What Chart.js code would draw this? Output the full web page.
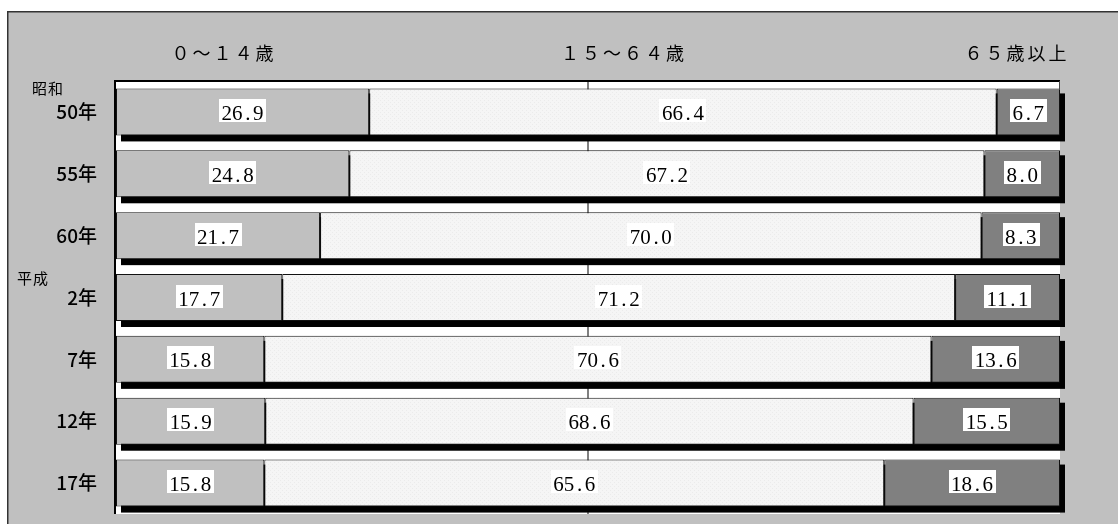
<!DOCTYPE html>
<html><head><meta charset="utf-8">
<script src="https://cdn.jsdelivr.net/npm/chart.js@4/dist/chart.umd.min.js"></script>
<style>html,body{margin:0;padding:0;background:#fff}#wrap{width:1118px;height:524px;position:relative}</style>
</head><body><div id="wrap"><canvas id="c" width="1118" height="524"></canvas></div>
<script>
const categories = ['50年','55年','60年','2年','7年','12年','17年'];
const eras = ['昭和','','','平成','','',''];
const seriesNames = ['０～１４歳','１５～６４歳','６５歳以上'];
const young = [26.9,24.8,21.7,17.7,15.8,15.9,15.8];
const working = [66.4,67.2,70.0,71.2,70.6,68.6,65.6];
const elderly = [6.7,8.0,8.3,11.1,13.6,15.5,18.6];
const xTicks = [0,50,100];

// subtle dotted fill for the middle segment
const pc = document.createElement('canvas'); pc.width = 4; pc.height = 4;
const pctx = pc.getContext('2d');
pctx.fillStyle = '#f5f5f5'; pctx.fillRect(0,0,4,4);
pctx.fillStyle = '#ebebeb';
pctx.fillRect(0,0,1,1); pctx.fillRect(2,2,1,1);
const midPattern = pctx.createPattern(pc,'repeat');

const headerX = [224, 624, 1017];
const eraPos = [{x:32, dy:-24},{x:17, dy:-19}];

const framePlugin = {
  id:'frame',
  beforeDraw(chart){
    const ctx = chart.ctx, a = chart.chartArea;
    ctx.save();
    ctx.fillStyle = '#fff'; ctx.fillRect(0,0,chart.width,chart.height);
    ctx.fillStyle = '#c0c0c0'; ctx.fillRect(7,11,chart.width-7,chart.height-11);
    ctx.fillStyle = '#333';
    ctx.fillRect(7,11,chart.width-7,1.5);
    ctx.fillRect(7,11,1.5,chart.height-11);
    ctx.fillStyle = '#fff';
    ctx.fillRect(a.left,a.top,a.right-a.left,a.bottom-a.top);
    // headers
    ctx.fillStyle = '#000';
    ctx.font = '18px "Noto Sans CJK JP"';
    ctx.textAlign = 'center'; ctx.textBaseline = 'middle';
    ctx.letterSpacing = '3px';
    seriesNames.forEach((s,i)=>ctx.fillText(s, headerX[i], 53));
    ctx.letterSpacing = '1px';
    ctx.font = '15px "Noto Sans CJK JP"';
    ctx.textAlign = 'left';
    const ys = chart.scales.y;
    let k = 0;
    eras.forEach((e,i)=>{
      if(!e) return;
      const p = eraPos[k++];
      ctx.fillText(e, p.x, ys.getPixelForValue(i) + p.dy);
    });
    ctx.restore();
  },
  beforeDatasetsDraw(chart){
    const ctx = chart.ctx;
    const m0 = chart.getDatasetMeta(0), m2 = chart.getDatasetMeta(2);
    ctx.save();
    ctx.fillStyle = '#000';
    m0.data.forEach((b,i)=>{
      const e = m2.data[i];
      const left = Math.min(b.base,b.x), right = e.x;
      const top = b.y - b.height/2;
      ctx.fillRect(left+5, top+5, right-left, b.height+1);
    });
    ctx.restore();
  },
  afterDatasetsDraw(chart){
    const ctx = chart.ctx, a = chart.chartArea;
    ctx.save();
    ctx.fillStyle = '#000';
    ctx.fillRect(a.left-1, a.top, 2, a.bottom-a.top);
    ctx.fillRect(a.left-1, a.top-1, a.right-a.left+1, 2);
    ctx.fillStyle = '#444';
    ctx.fillRect(a.right-1, a.top, 1, 9);
    // value labels
    const cell = 10.5;
    ctx.font = '21px "Liberation Serif"';
    ctx.textAlign = 'center'; ctx.textBaseline = 'alphabetic';
    chart.data.datasets.forEach((ds,di)=>{
      const meta = chart.getDatasetMeta(di);
      meta.data.forEach((b,i)=>{
        const txt = ds.data[i].toFixed(1);
        const cx = (b.base + b.x)/2, cy = b.y;
        const w = txt.length*cell + 5, h = 23;
        ctx.fillStyle = '#fff';
        ctx.fillRect(Math.round(cx - w/2), Math.round(cy - 13), Math.round(w), h);
        ctx.fillStyle = '#000';
        const x0 = cx - txt.length*cell/2;
        for(let j=0;j<txt.length;j++){
          ctx.fillText(txt[j], x0 + cell*j + cell/2, cy + 8);
        }
      });
    });
    ctx.restore();
  }
};

const bw = 1;
new Chart(document.getElementById('c'), {
  type:'bar',
  data:{
    labels:categories,
    datasets:[
      {label:seriesNames[0], data:young, backgroundColor:'#c0c0c0', borderColor:'#111', borderWidth:bw, borderSkipped:false},
      {label:seriesNames[1], data:working, backgroundColor:midPattern, borderColor:'#111', borderWidth:bw, borderSkipped:false},
      {label:seriesNames[2], data:elderly, backgroundColor:'#808080', borderColor:'#111', borderWidth:bw, borderSkipped:false}
    ]
  },
  options:{
    indexAxis:'y',
    responsive:false,
    animation:false,
    devicePixelRatio:1,
    layout:{padding:{left:0, right:58, top:81, bottom:10}},
    datasets:{bar:{categoryPercentage:1, barPercentage:0.76}},
    plugins:{legend:{display:false}, tooltip:{enabled:false}},
    scales:{
      x:{
        stacked:true, min:0, max:100,
        afterBuildTicks(s){ s.ticks = xTicks.map(v=>({value:v})); },
        ticks:{display:false},
        border:{display:false},
        grid:{color:c=>c.tick && c.tick.value===50 ? '#808080' : 'rgba(0,0,0,0)', lineWidth:2, drawTicks:false},
        afterFit(s){ s.height = 0; s.paddingLeft = 0; s.paddingRight = 0; }
      },
      y:{
        stacked:true,
        grid:{display:false, drawTicks:false},
        border:{display:false},
        ticks:{color:'#000', padding:18, font:{family:'"Noto Sans CJK JP"', size:19, weight:'500'}},
        afterFit(s){ s.width = 115; s.paddingTop = 0; s.paddingBottom = 0; }
      }
    }
  },
  plugins:[framePlugin]
});
</script></body></html>
